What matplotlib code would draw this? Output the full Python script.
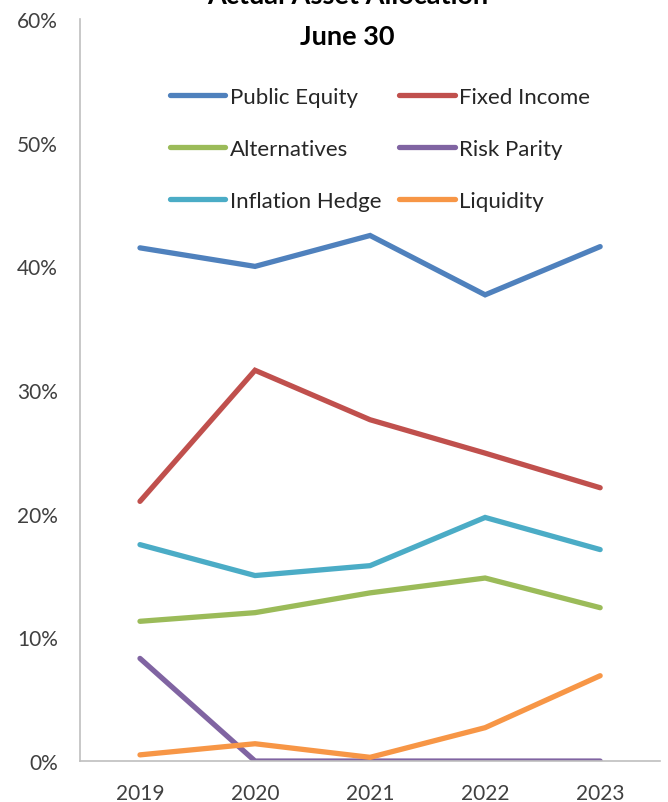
import matplotlib.pyplot as plt
from matplotlib.ticker import PercentFormatter

plt.rcParams['font.family'] = ['Lato', 'DejaVu Sans']

years = ['2019', '2020', '2021', '2022', '2023']
public_equity = [41.5, 40.0, 42.5, 37.7, 41.6]
fixed_income = [21.0, 31.6, 27.6, 24.9, 22.1]
alternatives = [11.3, 12.0, 13.6, 14.8, 12.4]
risk_parity = [8.3, 0.0, 0.0, 0.0, 0.0]
inflation_hedge = [17.5, 15.0, 15.8, 19.7, 17.1]
liquidity = [0.5, 1.4, 0.3, 2.7, 6.9]

series = [
    ('Public Equity', public_equity, '#4F81BD'),
    ('Fixed Income', fixed_income, '#C0504D'),
    ('Alternatives', alternatives, '#9BBB59'),
    ('Risk Parity', risk_parity, '#8064A2'),
    ('Inflation Hedge', inflation_hedge, '#4BACC6'),
    ('Liquidity', liquidity, '#F79646'),
]

fig = plt.figure(figsize=(6.68, 8.03), dpi=100)
ax = fig.add_axes([0.120, 0.051, 0.868, 0.924])

x = range(len(years))
lines = []
for name, vals, col in series:
    ln, = ax.plot(x, vals, color=col, lw=3.8, solid_capstyle='round',
                  solid_joinstyle='miter', label=name)
    lines.append(ln)

ax.set_xlim(-0.52, len(years) - 0.48)
ax.set_ylim(0, 60)
ax.set_yticks(range(0, 61, 10))
ax.yaxis.set_major_formatter(PercentFormatter(decimals=0))
ax.set_xticks(list(x))
ax.set_xticklabels(years)
ax.tick_params(length=0, labelsize=15, colors='#404040')
ax.tick_params(axis='x', pad=16)
ax.tick_params(axis='y', pad=16)

for s in ['top', 'right']:
    ax.spines[s].set_visible(False)
for s in ['left', 'bottom']:
    ax.spines[s].set_color('#BFBFBF')
    ax.spines[s].set_linewidth(1.2)

# title, partially cut at the top like the source
fig.text(0.52, 1 - 4 / 803, 'Actual Asset Allocation', ha='center', va='baseline',
         fontsize=19.5, fontweight='bold')
fig.text(0.52, 1 - 45 / 803, 'June 30', ha='center', va='baseline',
         fontsize=19.5, fontweight='bold')

# row-wise legend order (matplotlib fills columns first)
order = [0, 2, 4, 1, 3, 5]
leg = ax.legend(handles=[lines[i] for i in order], ncol=2, loc='center',
                bbox_to_anchor=(0.517, 0.825), frameon=False, fontsize=16,
                handlelength=2.5, handletextpad=0.2, columnspacing=0.8,
                labelspacing=1.45)
for t in leg.get_texts():
    t.set_color('#262626')

fig.savefig('out.png', dpi=100)
